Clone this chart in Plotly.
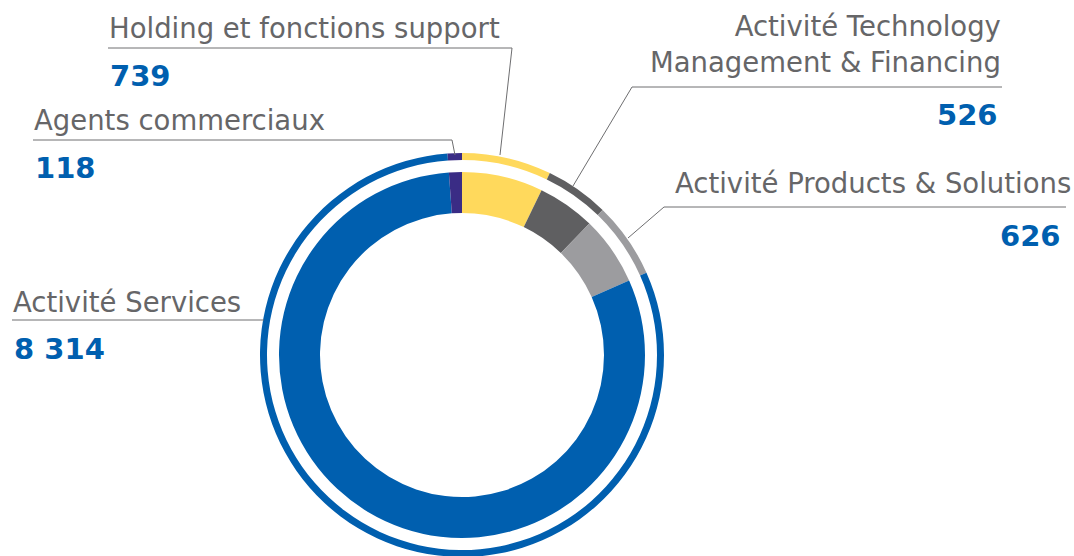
import plotly.graph_objects as go

# ---- data ----
categories = ["Holding et fonctions support",
              "Activité Technology<br>Management & Financing",
              "Activité Products & Solutions",
              "Activité Services",
              "Agents commerciaux"]
values = [739, 526, 626, 8314, 118]
value_labels = ["739", "526", "626", "8 314", "118"]
colors = ["#FFD95C", "#5F5F61", "#9C9C9F", "#005FAF", "#3A2C85"]

W, H = 1074, 600
CX, CY = 462, 355
R_THIN_OUT, R_THIN_IN = 202, 195
R_THICK_OUT, R_THICK_IN = 183, 142


def px(x):
    return x / W


def py(y):
    return 1 - y / H


def domain(r):
    return dict(x=[px(CX - r), px(CX + r)], y=[py(CY + r), py(CY - r)])


fig = go.Figure()
fig.add_trace(go.Pie(values=values, labels=categories, sort=False, direction="clockwise",
                     rotation=0, hole=R_THIN_IN / R_THIN_OUT, domain=domain(R_THIN_OUT),
                     marker=dict(colors=colors, line=dict(width=0)), textinfo="none",
                     hoverinfo="label+value", showlegend=False))
fig.add_trace(go.Pie(values=values, labels=categories, sort=False, direction="clockwise",
                     rotation=0, hole=R_THICK_IN / R_THICK_OUT, domain=domain(R_THICK_OUT),
                     marker=dict(colors=colors, line=dict(width=0)), textinfo="none",
                     hoverinfo="label+value", showlegend=False))

LABEL_FONT = dict(family="DejaVu Sans", size=27.5, color="#666668", weight=400)
VALUE_FONT = dict(family="DejaVu Sans", size=29, color="#005FAF", weight=800)

# label placement: (label x, label y, anchor, value y, leader path)
placements = [
    (107, 28, "left", 76, [(108, 48), (512, 48), (500, 155)]),
    (1003, 44, "right", 115, [(1002, 87), (632, 87), (573, 186)]),
    (1073, 183, "right", 236, [(1066, 207), (664, 207), (628, 238)]),
    (11, 302, "left", 349, [(12, 320), (264, 320)]),
    (32, 120, "left", 168, [(33, 140), (452, 140), (455, 155)]),
]
value_x_override = {1: 1000, 2: 1063}

annotations = []
shapes = []
for i, (lx, ly, anc, vy, path) in enumerate(placements):
    annotations.append(dict(text=categories[i], x=px(lx), y=py(ly), xref="paper", yref="paper",
                            xanchor=anc, yanchor="middle", showarrow=False, align=anc,
                            font=LABEL_FONT))
    vx = value_x_override.get(i, lx + 1)
    annotations.append(dict(text=value_labels[i], x=px(vx), y=py(vy), xref="paper", yref="paper",
                            xanchor=anc, yanchor="middle", showarrow=False, font=VALUE_FONT))
    d = "M " + " L ".join(f"{px(x)},{py(y)}" for x, y in path)
    shapes.append(dict(type="path", path=d, xref="paper", yref="paper",
                       line=dict(color="#6E6E70", width=1)))

fig.update_layout(width=W, height=H, margin=dict(l=0, r=0, t=0, b=0),
                  paper_bgcolor="white", plot_bgcolor="white",
                  annotations=annotations, shapes=shapes)

fig.write_html("out.html", config={"displayModeBar": False},
               post_script="document.body.style.margin='0';"
                           "document.body.style.overflow='hidden';"
                           "document.documentElement.style.overflow='hidden';")
